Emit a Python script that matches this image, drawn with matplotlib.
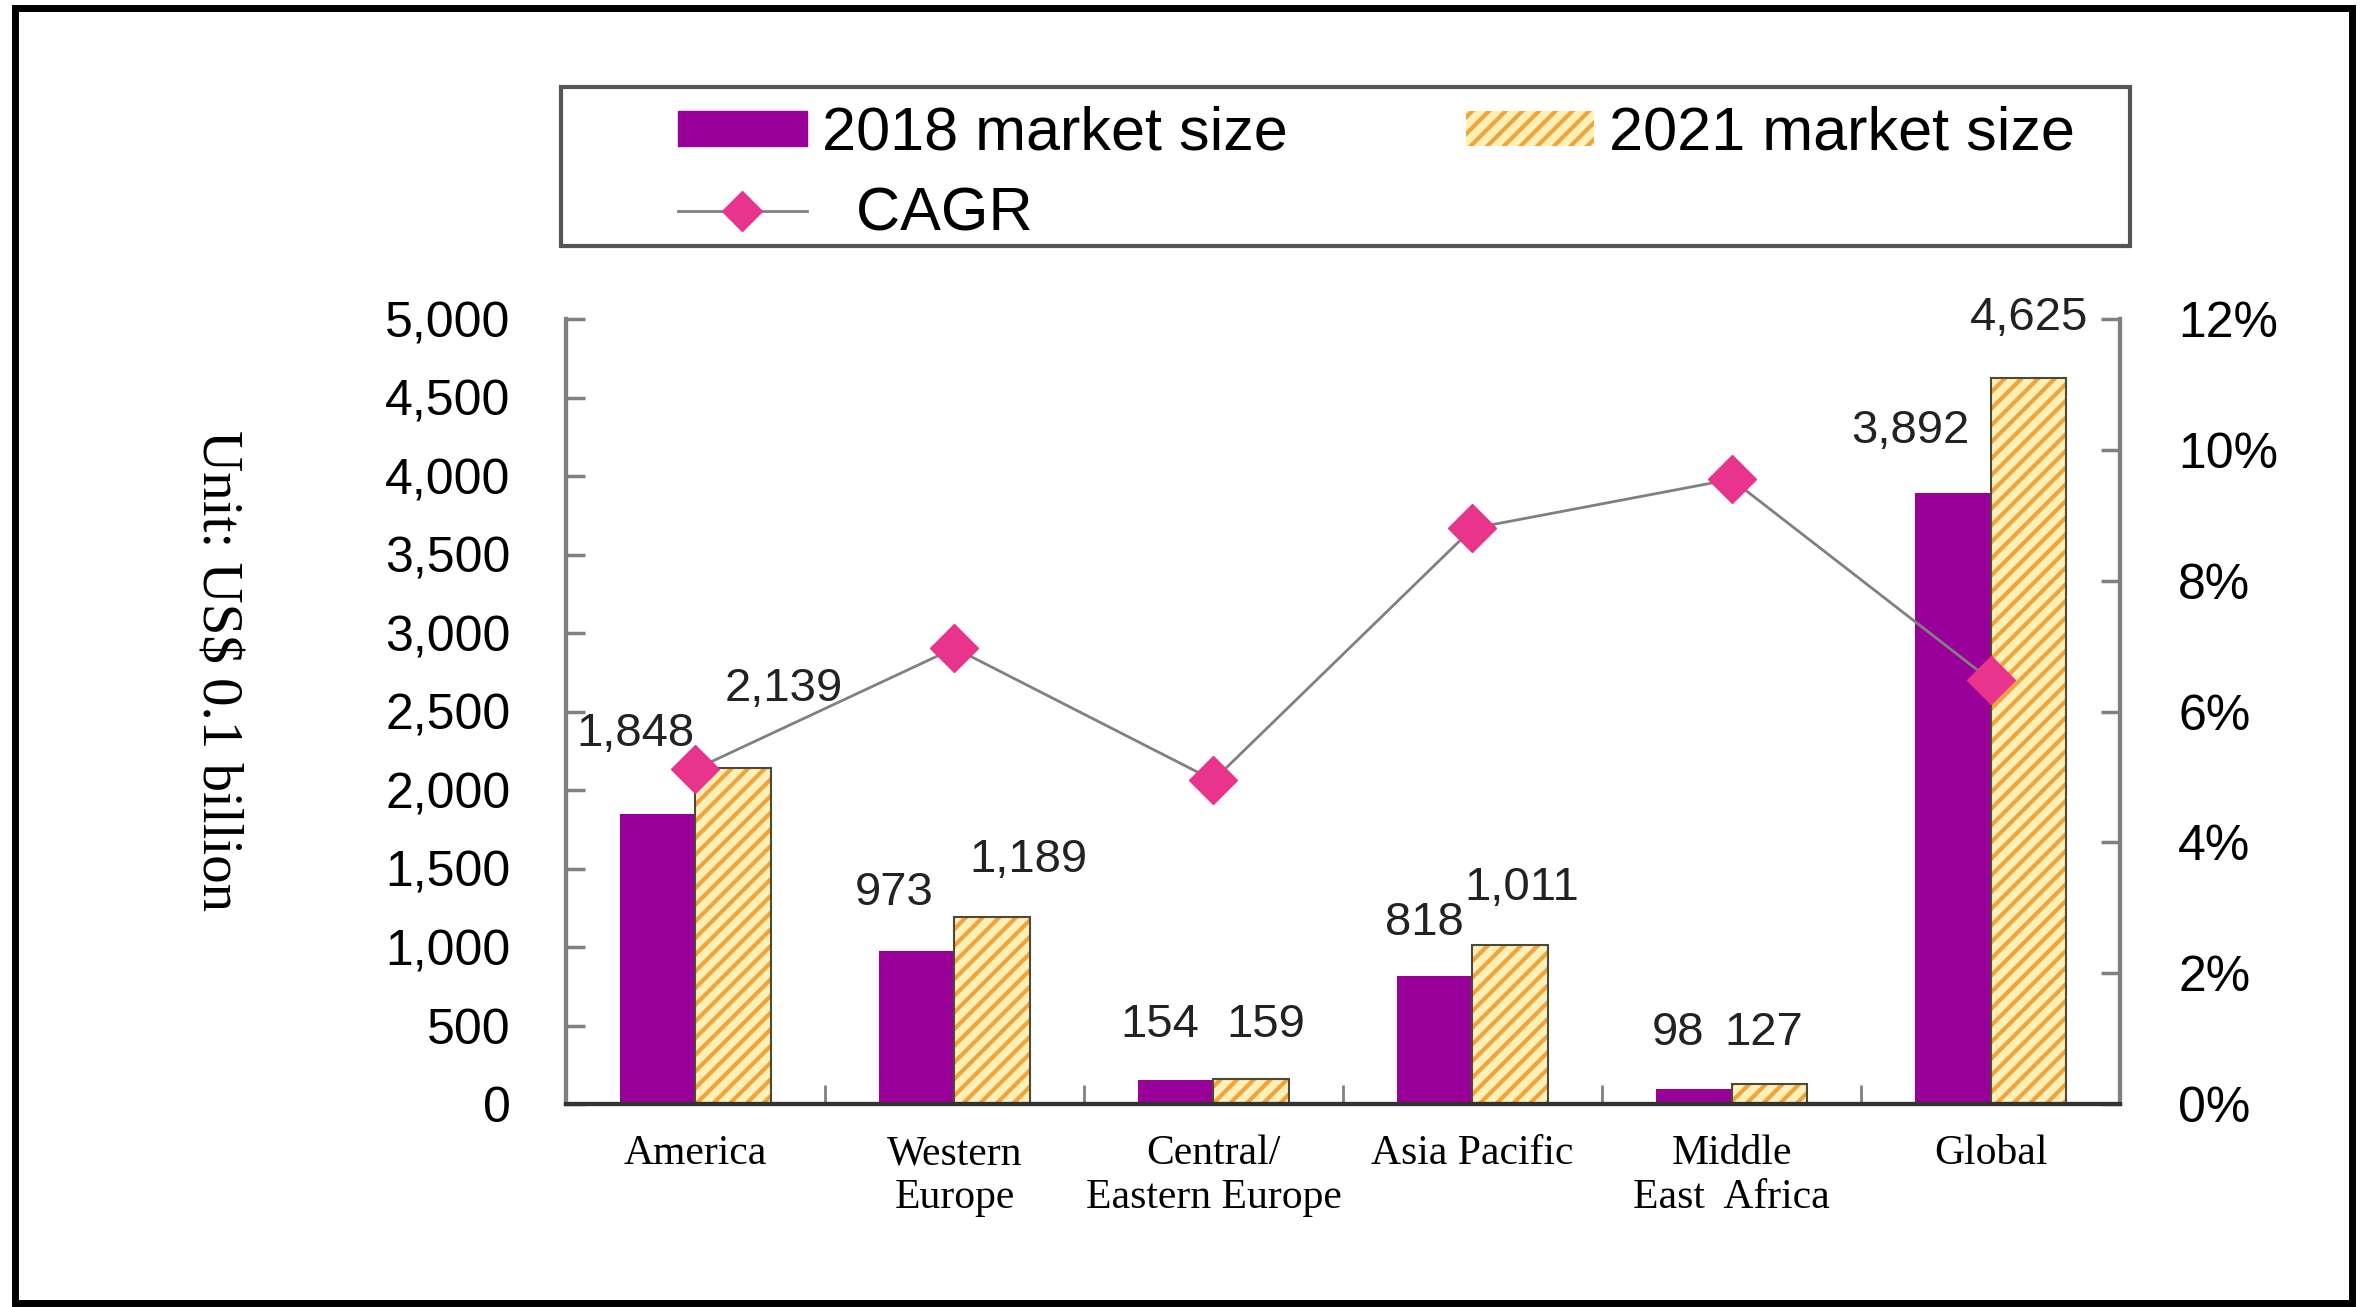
import numpy as np
import matplotlib
matplotlib.use('Agg')
import matplotlib.pyplot as plt
from matplotlib.patches import Patch, Rectangle
from matplotlib.lines import Line2D
from matplotlib.ticker import FuncFormatter

plt.rcParams['font.family'] = ['Liberation Sans', 'DejaVu Sans']
plt.rcParams['hatch.linewidth'] = 3

# data
regions = ['America', 'Western\nEurope', 'Central/\nEastern Europe',
           'Asia Pacific', 'Middle\nEast  Africa', 'Global']
size_2018 = [1848, 973, 154, 818, 98, 3892]
size_2021 = [2139, 1189, 159, 1011, 127, 4625]
cagr = [0.0512, 0.0697, 0.0495, 0.088, 0.0955, 0.0648]

# label nudges (pixels) for the value labels, like the excel original
off_2018 = [(-22, 80), (-23, 58), (-16, 55), (-11, 53), (-16, 56), (-43, 62)]
off_2021 = [(51, 79), (36, 57), (15, 54), (12, 57), (-5, 51), (1, 60)]

purple = '#990099'
yellow = '#FFF0B8'
orange = '#F0A53C'
pink = '#E8348C'
gray = '#808080'

fig = plt.figure(figsize=(23.64, 13.07), dpi=100)
ax = fig.add_axes([0.2394, 0.1553, 0.6574, 0.6006])
ax2 = ax.twinx()

x = np.arange(len(regions))
w = 0.29

ax.bar(x - w / 2, size_2018, w, color=purple, zorder=2)
ax.bar(x + w / 2, size_2021, w, color=yellow, edgecolor=orange, hatch='//',
       linewidth=0, zorder=2)
ax.bar(x + w / 2, size_2021, w, fill=False, edgecolor='#4a4a3a', linewidth=1.5, zorder=3)

for i in range(len(x)):
    ax.annotate(f'{size_2018[i]:,}', xy=(x[i] - w / 2, size_2018[i]), xytext=off_2018[i],
                textcoords='offset pixels', ha='center', va='center', fontsize=34, color='#222222')
    ax.annotate(f'{size_2021[i]:,}', xy=(x[i] + w / 2, size_2021[i]), xytext=off_2021[i],
                textcoords='offset pixels', ha='center', va='center', fontsize=34, color='#222222')

ax2.plot(x, cagr, color=gray, lw=2, marker='D', ms=24, mfc=pink, mec=pink, zorder=4)

ax.set_xlim(-0.5, 5.5)
ax.set_ylim(0, 5000)
ax.set_yticks(np.arange(0, 5001, 500))
ax.yaxis.set_major_formatter(FuncFormatter(lambda v, p: f'{int(v):,}'))
ax2.set_ylim(0, 0.12)
ax2.set_yticks(np.arange(0, 0.121, 0.02))
ax2.yaxis.set_major_formatter(FuncFormatter(lambda v, p: f'{v * 100:.0f}%'))

ax.set_xticks(x)
ax.set_xticklabels(regions, family='Liberation Serif', fontsize=30, linespacing=1.2)
ax.set_xticks(np.arange(-0.5, 5.6, 1.0), minor=True)
ax.tick_params(axis='x', which='major', length=0, pad=22)
ax.tick_params(axis='x', which='minor', direction='in', length=14, width=2, color=gray)
ax.tick_params(axis='y', direction='in', length=14, width=2.5, color=gray, pad=40, labelsize=36)
ax2.tick_params(axis='y', direction='in', length=14, width=2.5, color=gray, pad=42, labelsize=36)

for a in (ax, ax2):
    a.spines['top'].set_visible(False)
    a.spines['left'].set_color(gray)
    a.spines['right'].set_color(gray)
    a.spines['left'].set_linewidth(3)
    a.spines['right'].set_linewidth(3)
    a.spines['bottom'].set_color('#333333')
    a.spines['bottom'].set_linewidth(3)

fig.text(216 / 2364, 1 - 671 / 1307, r'Unit: US\$ 0.1 billion', rotation=270,
         ha='center', va='center', family='Liberation Serif', fontsize=41)

# legend box and outer frame
fig.patches.append(Rectangle((561 / 2364, 1 - 246 / 1307), (2130 - 561) / 2364, (246 - 87) / 1307,
                             transform=fig.transFigure, fill=False, edgecolor='#555555', lw=3))
fig.patches.append(Rectangle((15 / 2364, 0.003), (2352 - 15) / 2364, 0.9909,
                             transform=fig.transFigure, fill=False, edgecolor='black', lw=5))

h1 = Patch(facecolor=purple, edgecolor=purple)
h2 = Patch(facecolor=yellow, edgecolor=orange, hatch='//', lw=0)
h3 = Line2D([], [], color=gray, lw=2, marker='D', ms=20, mfc=pink, mec=pink)
fig.legend([h1, h3, h2], ['2018 market size', '  CAGR', '2021 market size'],
           ncol=2, loc='upper left', bbox_to_anchor=(678 / 2364, 1 - 106 / 1307),
           frameon=False, fontsize=44, handlelength=2.11, handleheight=0.5,
           handletextpad=0.245, columnspacing=2.91, labelspacing=0.38,
           borderpad=0, borderaxespad=0)

fig.savefig('out.png', dpi=100)
